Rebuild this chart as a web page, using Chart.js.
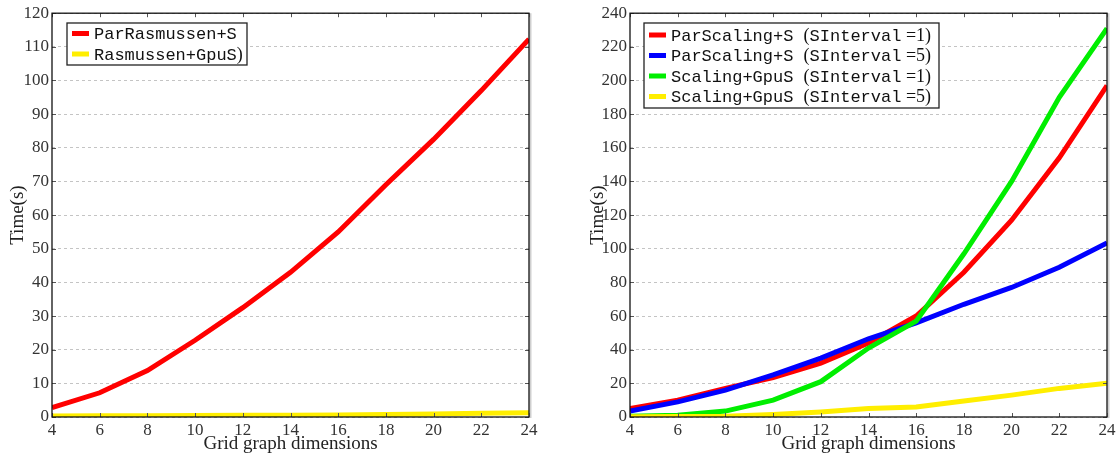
<!DOCTYPE html>
<html>
<head>
<meta charset="utf-8">
<script src="https://cdn.jsdelivr.net/npm/chart.js@4.4.1/dist/chart.umd.min.js"></script>
<style>
  html, body { margin: 0; padding: 0; background: #fff; }
  .panel { position: absolute; top: 0; width: 560px; height: 456px; }
</style>
</head>
<body>
<div class="panel" style="left:0"><canvas id="leftChart" width="560" height="456"></canvas></div>
<div class="panel" style="left:560px"><canvas id="rightChart" width="560" height="456"></canvas></div>
<script>
// grid graph sizes on the x axis
const dims = [4, 6, 8, 10, 12, 14, 16, 18, 20, 22, 24];

// left panel: times in seconds
const parRasmussen = [2.8, 7.2, 13.8, 22.8, 32.5, 43, 55, 69, 82.5, 97, 112.3];
const rasmussenGpu = [0.3, 0.35, 0.4, 0.45, 0.5, 0.55, 0.6, 0.75, 0.9, 1.1, 1.3];

// right panel: times in seconds
const parScaling1 = [5, 10, 17, 23.5, 32, 44, 60, 86, 117, 154, 197];
const parScaling5 = [3.5, 9, 16, 25, 35, 46.5, 56, 67, 77, 89, 103.5];
const scalingGpu1 = [0.5, 1, 3.5, 10, 21, 41, 57, 97, 140, 190, 231];
const scalingGpu5 = [0.2, 0.3, 0.5, 1.5, 3, 5, 6, 9.5, 13, 17, 20];

const SERIF = "'Liberation Serif', 'DejaVu Serif', serif";
const MONO = "'Liberation Mono', 'DejaVu Sans Mono', monospace";

function toPoints(values) {
  return dims.map((d, i) => ({ x: d, y: values[i] }));
}

// box around the plot area with inward tick marks on every side
const framePlugin = {
  id: 'frame',
  afterDatasetsDraw(chart) {
    const { ctx, chartArea: a, scales: { x, y } } = chart;
    ctx.save();
    ctx.strokeStyle = '#555';
    ctx.lineWidth = 1;
    ctx.beginPath();
    y.ticks.forEach(t => {
      const py = Math.round(y.getPixelForValue(t.value)) + 0.5;
      ctx.moveTo(a.left, py); ctx.lineTo(a.left + 4, py);
      ctx.moveTo(a.right, py); ctx.lineTo(a.right - 4, py);
    });
    x.ticks.forEach(t => {
      const px = Math.round(x.getPixelForValue(t.value)) + 0.5;
      ctx.moveTo(px, a.top); ctx.lineTo(px, a.top + 4);
      ctx.moveTo(px, a.bottom); ctx.lineTo(px, a.bottom - 4);
    });
    ctx.stroke();
    ctx.strokeStyle = '#cfcfcf';
    ctx.lineWidth = 2;
    ctx.beginPath();
    ctx.moveTo(a.right + 1.5, a.top);
    ctx.lineTo(a.right + 1.5, a.bottom + 1);
    ctx.stroke();
    ctx.strokeStyle = '#111';
    ctx.lineWidth = 1.3;
    ctx.strokeRect(a.left, a.top, a.right - a.left, a.bottom - a.top);
    ctx.restore();
  }
};

// legend drawn inside the plot, with mixed typewriter / serif text
const boxLegendPlugin = {
  id: 'boxLegend',
  afterDraw(chart, args, opts) {
    const { ctx } = chart;
    const { left, top, width, height, firstRow, rowStep, items } = opts;
    ctx.save();
    ctx.fillStyle = '#fff';
    ctx.fillRect(left, top, width, height);
    ctx.strokeStyle = '#222';
    ctx.lineWidth = 1.3;
    ctx.strokeRect(left, top, width, height);
    items.forEach((item, i) => {
      const cy = top + firstRow + i * rowStep;
      ctx.strokeStyle = item.color;
      ctx.lineWidth = 5;
      ctx.beginPath();
      ctx.moveTo(left + 5, cy);
      ctx.lineTo(left + 22, cy);
      ctx.stroke();
      let tx = left + 27;
      ctx.fillStyle = '#111';
      ctx.textBaseline = 'middle';
      item.parts.forEach(([text, kind]) => {
        ctx.font = kind === 'mono' ? '17px ' + MONO : '18px ' + SERIF;
        ctx.fillText(text, tx, cy + 1);
        tx += ctx.measureText(text).width;
      });
    });
    ctx.restore();
  }
};

function lineSet(values, color, order) {
  return {
    data: toPoints(values),
    borderColor: color,
    backgroundColor: color,
    borderWidth: 5,
    pointRadius: 0,
    tension: 0,
    fill: false,
    order: order
  };
}

function makeOptions(yMax, yStep, yWidth, rightPad, yTitlePad, legend) {
  return {
    responsive: false,
    animation: false,
    layout: { padding: { top: 12, right: rightPad, bottom: 0, left: 0 } },
    plugins: {
      legend: { display: false },
      tooltip: { enabled: false },
      boxLegend: legend
    },
    scales: {
      x: {
        type: 'linear',
        min: 4,
        max: 24,
        afterFit: s => { s.height = 39; },
        ticks: { stepSize: 2, padding: 3, color: '#333', font: { family: SERIF, size: 17 } },
        grid: { display: false, drawTicks: false },
        border: { display: false },
        title: {
          display: true,
          text: 'Grid graph dimensions',
          color: '#222',
          font: { family: SERIF, size: 19 },
          padding: { top: 0, bottom: 1 }
        }
      },
      y: {
        min: 0,
        max: yMax,
        afterFit: s => { s.width = yWidth; },
        ticks: { stepSize: yStep, padding: 3, color: '#333', font: { family: SERIF, size: 17 } },
        grid: { color: '#c4c4c4', lineWidth: 1, drawTicks: false },
        border: { display: false, dash: [3, 3] },
        title: {
          display: true,
          text: 'Time(s)',
          color: '#222',
          font: { family: SERIF, size: 19 },
          padding: { top: yTitlePad, bottom: 0 }
        }
      }
    }
  };
}

new Chart(document.getElementById('leftChart'), {
  type: 'line',
  data: {
    datasets: [
      lineSet(parRasmussen, '#ff0000', 1),
      lineSet(rasmussenGpu, '#ffee00', 0)
    ]
  },
  options: makeOptions(120, 10, 52, 31, 7, {
    left: 67, top: 23, width: 180, height: 42, firstRow: 10.5, rowStep: 20.5,
    items: [
      { color: '#ff0000', parts: [['ParRasmussen+S', 'mono']] },
      { color: '#ffee00', parts: [['Rasmussen+GpuS', 'mono'], [')', 'serif']] }
    ]
  }),
  plugins: [framePlugin, boxLegendPlugin]
});

new Chart(document.getElementById('rightChart'), {
  type: 'line',
  data: {
    datasets: [
      lineSet(parScaling1, '#ff0000', 3),
      lineSet(parScaling5, '#0000ff', 2),
      lineSet(scalingGpu1, '#00ee00', 1),
      lineSet(scalingGpu5, '#ffee00', 0)
    ]
  },
  options: makeOptions(240, 20, 70, 13, 27, {
    left: 84, top: 23, width: 295, height: 85, firstRow: 12, rowStep: 20.5,
    items: [
      { color: '#ff0000', parts: [['ParScaling+S ', 'mono'], ['(', 'serif'], ['SInterval', 'mono'], [' =1)', 'serif']] },
      { color: '#0000ff', parts: [['ParScaling+S ', 'mono'], ['(', 'serif'], ['SInterval', 'mono'], [' =5)', 'serif']] },
      { color: '#00ee00', parts: [['Scaling+GpuS ', 'mono'], ['(', 'serif'], ['SInterval', 'mono'], [' =1)', 'serif']] },
      { color: '#ffee00', parts: [['Scaling+GpuS ', 'mono'], ['(', 'serif'], ['SInterval', 'mono'], [' =5)', 'serif']] }
    ]
  }),
  plugins: [framePlugin, boxLegendPlugin]
});
</script>
</body>
</html>
